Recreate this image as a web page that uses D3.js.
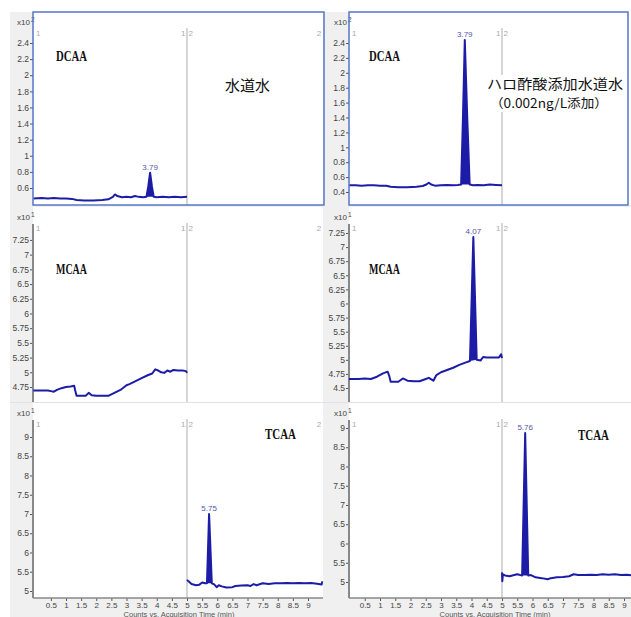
<!DOCTYPE html>
<html>
<head>
<meta charset="utf-8">
<script src="https://cdn.jsdelivr.net/npm/d3@7"></script>
<style>
body { margin: 0; background: #fff; }
svg { display: block; }
.tick text { font-family: "Liberation Sans Narrow", "Liberation Sans", sans-serif; fill: #444; }
</style>
</head>
<body>
<div id="chart"></div>
<script>
// chromatogram traces: [time (min), counts]
var dcaaTap = [[-0.08,0.47],[0.2,0.475],[0.4,0.47],[0.6,0.475],[0.8,0.47],[1.0,0.47],[1.2,0.465],[1.35,0.45],[1.6,0.445],[1.9,0.445],[2.2,0.45],[2.4,0.46],[2.55,0.49],[2.62,0.52],[2.7,0.5],[2.85,0.485],[3.0,0.49],[3.15,0.485],[3.28,0.5],[3.4,0.49],[3.55,0.485],[3.66,0.49],[3.72,0.62],[3.78,0.79],[3.84,0.62],[3.9,0.49],[4.0,0.485],[4.2,0.49],[4.4,0.485],[4.6,0.49],[4.8,0.485],[5.0,0.49]];
var dcaaSpiked = [[-0.02,0.49],[0.2,0.49],[0.4,0.485],[0.6,0.49],[0.8,0.49],[1.0,0.485],[1.2,0.485],[1.35,0.47],[1.6,0.465],[1.9,0.465],[2.2,0.47],[2.4,0.48],[2.52,0.5],[2.6,0.525],[2.68,0.5],[2.8,0.485],[3.0,0.49],[3.2,0.495],[3.4,0.49],[3.55,0.495],[3.66,0.5],[3.72,1.4],[3.78,2.44],[3.86,1.4],[3.94,0.5],[4.05,0.49],[4.2,0.495],[4.4,0.49],[4.6,0.5],[4.8,0.495],[5.0,0.49]];
var mcaaTap = [[-0.08,4.69],[0.2,4.69],[0.4,4.69],[0.5,4.68],[0.6,4.67],[0.7,4.7],[0.85,4.73],[1.0,4.75],[1.15,4.76],[1.27,4.77],[1.3,4.7],[1.35,4.6],[1.5,4.6],[1.65,4.6],[1.75,4.65],[1.85,4.61],[2.0,4.6],[2.2,4.6],[2.4,4.6],[2.6,4.65],[2.8,4.7],[3.0,4.78],[3.1,4.8],[3.3,4.85],[3.5,4.9],[3.7,4.95],[3.85,4.98],[3.95,5.05],[4.05,5.03],[4.15,5.0],[4.25,4.99],[4.35,5.03],[4.45,5.01],[4.55,5.04],[4.7,5.03],[4.85,5.03],[4.97,5.02],[5.0,4.99]];
var mcaaSpiked = [[-0.02,4.66],[0.3,4.66],[0.5,4.67],[0.7,4.66],[0.9,4.7],[1.1,4.76],[1.25,4.79],[1.3,4.72],[1.35,4.61],[1.6,4.61],[1.75,4.67],[1.9,4.63],[2.1,4.62],[2.3,4.62],[2.5,4.66],[2.6,4.68],[2.75,4.63],[2.85,4.73],[3.0,4.78],[3.2,4.82],[3.4,4.86],[3.6,4.91],[3.8,4.95],[3.95,4.98],[4.06,7.18],[4.17,5.0],[4.3,4.99],[4.38,5.05],[4.5,5.04],[4.7,5.04],[4.9,5.04],[4.97,5.1],[5.0,5.03]];
var tcaaTap = [[5.0,5.29],[5.05,5.25],[5.15,5.18],[5.3,5.15],[5.4,5.16],[5.5,5.22],[5.6,5.2],[5.66,5.2],[5.73,7.0],[5.82,5.2],[5.9,5.17],[5.98,5.1],[6.05,5.15],[6.15,5.12],[6.3,5.09],[6.5,5.1],[6.6,5.13],[6.8,5.14],[7.0,5.15],[7.1,5.13],[7.2,5.18],[7.3,5.15],[7.5,5.2],[7.7,5.18],[7.9,5.2],[8.1,5.2],[8.3,5.21],[8.5,5.2],[8.7,5.21],[8.9,5.2],[9.1,5.21],[9.3,5.19],[9.45,5.17],[9.47,5.25]];
var tcaaSpiked = [[5.0,5.25],[5.01,5.02],[5.03,5.2],[5.1,5.17],[5.25,5.15],[5.4,5.18],[5.5,5.2],[5.6,5.18],[5.66,5.17],[5.76,8.87],[5.86,5.17],[5.95,5.18],[6.1,5.12],[6.3,5.1],[6.5,5.07],[6.6,5.1],[6.8,5.12],[7.0,5.13],[7.2,5.15],[7.35,5.2],[7.5,5.18],[7.7,5.18],[7.9,5.19],[8.1,5.18],[8.3,5.2],[8.5,5.19],[8.7,5.2],[8.9,5.18],[9.1,5.19],[9.3,5.17],[9.5,5.17]];

// peak windows [start, apex, end] and apex labels
var peakWindows = [[3.66,3.78,3.9],[3.66,3.78,3.94],null,[3.95,4.06,4.17],[5.66,5.73,5.82],[5.66,5.76,5.86]];
var peakLabels = ["3.79","3.79",null,"4.07","5.75","5.76"];

// tick labels
var xTicks = [0.5,1,1.5,2,2.5,3,3.5,4,4.5,5,5.5,6,6.5,7,7.5,8,8.5,9];
var dcaaTicksL = [0.6,0.8,1,1.2,1.4,1.6,1.8,2,2.2,2.4];
var dcaaTicksR = [0.4,0.6,0.8,1,1.2,1.4,1.6,1.8,2,2.2,2.4];
var mcaaTicksL = [4.75,5,5.25,5.5,5.75,6,6.25,6.5,6.75,7,7.25];
var mcaaTicksR = [4.5,4.75,5,5.25,5.5,5.75,6,6.25,6.5,6.75,7,7.25];
var tcaaTicks = [5,5.5,6,6.5,7,7.5,8,8.5,9];
var compounds = ["DCAA","MCAA","TCAA"];
var exponents = ["2","1","1"];

var rows = [{top:12,bottom:205},{top:207,bottom:402},{top:403,bottom:598}];
var cols = [{axis:33,x0:35.75,k:30.25,right:323},{axis:349,x0:349.5,k:30.5,right:631}];

var panels = [
  {row:0,col:0,data:dcaaTap,dom:[0.389,2.785],ticks:dcaaTicksL},
  {row:0,col:1,data:dcaaSpiked,dom:[0.2255,2.816],ticks:dcaaTicksR},
  {row:1,col:0,data:mcaaTap,dom:[4.495,7.81],ticks:mcaaTicksL},
  {row:1,col:1,data:mcaaSpiked,dom:[4.252,7.711],ticks:mcaaTicksR},
  {row:2,col:0,data:tcaaTap,dom:[4.818,9.883],ticks:tcaaTicks},
  {row:2,col:1,data:tcaaSpiked,dom:[4.584,9.649],ticks:tcaaTicks}
];

var narrow = '"Liberation Sans Narrow","Liberation Sans",sans-serif';
var traceColor = "#1c1ca6";

var svg = d3.select("#chart").append("svg").attr("width", 631).attr("height", 617);

// grey frame behind the plots
svg.append("rect").attr("x", 10).attr("y", 12).attr("width", 621).attr("height", 605).attr("fill", "#f0f0f0");

panels.forEach(function(p, i) {
  var r = rows[p.row], c = cols[p.col];
  var x = d3.scaleLinear().domain([0, 9.5]).range([c.x0, c.x0 + 9.5 * c.k]);
  var y = d3.scaleLinear().domain(p.dom).range([r.bottom, r.top]);
  var g = svg.append("g");

  g.append("rect")
    .attr("x", c.axis).attr("y", r.top)
    .attr("width", c.right - c.axis).attr("height", r.bottom - r.top)
    .attr("fill", "#fff");

  // segment markers (the last one only where it fits)
  var my = r.top + 24;
  g.append("line")
    .attr("x1", x(5)).attr("x2", x(5))
    .attr("y1", my - 8).attr("y2", r.bottom)
    .attr("stroke", "#c9c9c9").attr("stroke-width", 1.5);
  var marks = [[c.axis + 3, "1", "start"], [x(5) - 1.5, "1", "end"], [x(5) + 1.5, "2", "start"]];
  if (x(9.5) < 630) marks.push([x(9.5) - 2, "2", "end"]);
  g.selectAll(".mark").data(marks).enter().append("text")
    .attr("x", d => d[0]).attr("y", my)
    .attr("text-anchor", d => d[2])
    .attr("font-family", narrow).attr("font-size", 8).attr("fill", "#aaa")
    .text(d => d[1]);

  // y axis
  var yAxis = g.append("g")
    .attr("transform", `translate(${c.axis},0)`)
    .call(d3.axisLeft(y).tickValues(p.ticks).tickSize(3).tickPadding(1).tickFormat(d3.format("~g")));
  yAxis.select(".domain").remove();
  yAxis.selectAll(".tick line").attr("stroke", "#555");
  yAxis.selectAll(".tick text").attr("font-size", 8.5);

  if (p.row > 0) {
    g.append("line")
      .attr("x1", c.axis).attr("x2", c.axis)
      .attr("y1", r.top + 17).attr("y2", r.bottom)
      .attr("stroke", "#888").attr("stroke-width", 2);
  }

  // exponent label
  var ex = g.append("text")
    .attr("x", c.axis - 16 + (p.col ? 1 : 0)).attr("y", r.top + 13)
    .attr("font-family", narrow).attr("font-size", 8).attr("fill", "#444");
  ex.append("tspan").text("x10");
  ex.append("tspan").attr("dy", -3).attr("dx", 1).attr("font-size", 6.5).text(exponents[p.row]);

  // trace
  var line = d3.line().x(d => x(d[0])).y(d => y(d[1]));
  var w = peakWindows[i];
  if (w) {
    var pk = p.data.filter(d => d[0] >= w[0] && d[0] <= w[2]);
    g.append("path").attr("d", line(pk) + "Z").attr("fill", traceColor);
    var apex = p.data.find(d => d[0] === w[1]);
    g.append("text")
      .attr("x", x(w[1])).attr("y", y(apex[1]) - 3)
      .attr("text-anchor", "middle")
      .attr("font-family", narrow).attr("font-size", 8).attr("fill", "#5656a8")
      .text(peakLabels[i]);
  }
  g.append("path")
    .attr("d", line(p.data))
    .attr("fill", "none")
    .attr("stroke", traceColor)
    .attr("stroke-width", 2)
    .attr("stroke-linejoin", "round");

  if (p.row === 0) {
    g.append("rect")
      .attr("x", c.axis).attr("y", r.top)
      .attr("width", (p.col ? 628 : 324) - c.axis).attr("height", r.bottom - r.top)
      .attr("fill", "none").attr("stroke", "#5577c8").attr("stroke-width", 1.5);
  }

  // x axis on the bottom row
  if (p.row === 2) {
    var xAxis = g.append("g")
      .attr("transform", `translate(0,${r.bottom})`)
      .call(d3.axisBottom(x).tickValues(xTicks).tickSize(3).tickPadding(1).tickFormat(d3.format("~g")));
    xAxis.select(".domain").remove();
    xAxis.selectAll(".tick line").attr("stroke", "#555");
    xAxis.selectAll(".tick text").attr("font-size", 8);
    g.append("line")
      .attr("x1", c.axis).attr("x2", c.right)
      .attr("y1", r.bottom).attr("y2", r.bottom)
      .attr("stroke", "#888").attr("stroke-width", 1.5);
    g.append("text")
      .attr("x", c.axis + 146).attr("y", 616.5)
      .attr("text-anchor", "middle")
      .attr("font-family", narrow).attr("font-size", 7.5).attr("fill", "#555")
      .text("Counts vs. Acquisition Time (min)");
  }
});

// row divider
svg.append("line").attr("x1", 10).attr("x2", 631).attr("y1", 402.5).attr("y2", 402.5)
  .attr("stroke", "#e2e2e2").attr("stroke-width", 1);

// compound names
var namePos = [[56, 61], [369, 61], [56, 274], [369, 274], [265, 439], [578, 440]];
namePos.forEach(function(d, i) {
  svg.append("text")
    .attr("x", d[0]).attr("y", d[1])
    .attr("font-family", '"Liberation Serif", serif').attr("font-size", 15)
    .attr("font-weight", "bold")
    .attr("textLength", 31).attr("lengthAdjust", "spacingAndGlyphs")
    .attr("fill", "#111")
    .text(compounds[Math.floor(i / 2)]);
});

// sample captions
svg.append("text")
  .attr("x", 225).attr("y", 91)
  .attr("font-family", '"Noto Sans CJK JP", sans-serif').attr("font-size", 15)
  .attr("fill", "#111")
  .text("水道水");
svg.append("rect")
  .attr("x", 486).attr("y", 75).attr("width", 138).attr("height", 37)
  .attr("fill", "#fff");
svg.append("text")
  .attr("x", 487).attr("y", 89)
  .attr("font-family", '"Noto Sans CJK JP", sans-serif').attr("font-size", 13.5)
  .attr("textLength", 136).attr("lengthAdjust", "spacingAndGlyphs")
  .attr("fill", "#111")
  .text("ハロ酢酸添加水道水");
svg.append("text")
  .attr("x", 490).attr("y", 108)
  .attr("font-family", '"Noto Sans CJK JP", sans-serif').attr("font-size", 12.5)
  .attr("textLength", 118).attr("lengthAdjust", "spacingAndGlyphs")
  .attr("fill", "#111")
  .text("（0.002ng/L添加）");
</script>
</body>
</html>
